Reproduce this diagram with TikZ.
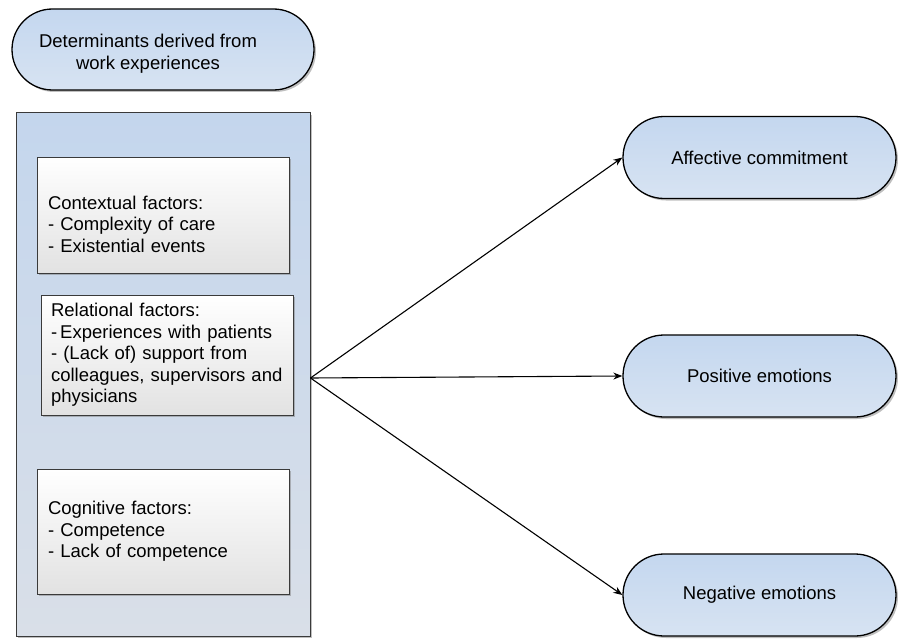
\documentclass[tikz,border=0pt]{standalone}
\usepackage{fontspec}
\setmainfont{Liberation Sans}
\usetikzlibrary{shapes.misc,shadows,arrows.meta}
\definecolor{pilltop}{HTML}{C4D7EF}
\definecolor{pillbot}{HTML}{D7E3F2}
\definecolor{contop}{HTML}{C4D6ED}
\definecolor{conbot}{HTML}{D9DFE8}
\definecolor{boxbot}{HTML}{E2E2E2}
\definecolor{edgegray}{HTML}{3A3A3A}
\begin{document}
\begin{tikzpicture}[x=1pt,y=-1pt,
  font=\fontsize{18.5}{21.5}\selectfont,
  pill/.style={rounded rectangle, draw=black, line width=1.3pt,
    top color=pilltop, bottom color=pillbot,
    minimum width=273pt, minimum height=82pt, inner sep=0pt,
    drop shadow={shadow xshift=2pt, shadow yshift=-2pt, fill=black!50, opacity=0.5}},
  container/.style={rectangle, draw=edgegray, line width=1pt,
    top color=contop, bottom color=conbot,
    minimum width=294pt, minimum height=523pt, inner sep=0pt,
    drop shadow={shadow xshift=2pt, shadow yshift=-2pt, fill=black!50, opacity=0.5}},
  factorbox/.style={rectangle, draw=edgegray, line width=1pt,
    top color=white, bottom color=boxbot,
    minimum width=252pt, align=left, text width=230pt, inner xsep=11pt, inner ysep=0pt,
    drop shadow={shadow xshift=2pt, shadow yshift=-2pt, fill=black!50, opacity=0.5}},
  conn/.style={draw=black, line width=1.1pt, -{Stealth[length=9pt,width=7pt]}}
]
\path[use as bounding box] (0,0) rectangle (898,642);

\node[pill, minimum width=302pt, minimum height=81pt,
  label={[align=center, xshift=-15pt, yshift=-4pt]center:{Determinants derived from\\work experiences}}]
  (det) at (163,49.5) {};

\node[container] (grp) at (163,374.5) {};

\node[factorbox, minimum height=116pt,
  label={[text width=230pt, align=left, yshift=-9pt]center:{Contextual factors:\\- Complexity of care\\- Existential events}}]
  (ctx) at (163,215) {};
\node[factorbox, minimum height=120pt, inner xsep=10pt, text width=232pt] (rel) at (167,355)
  {Relational factors:\\-\,Experiences with patients\\- (Lack of) support from\\colleagues, supervisors and\\physicians};
\node[factorbox, minimum height=125pt] (cog) at (163,531.5)
  {Cognitive factors:\\- Competence\\- Lack of competence};

\node[pill] (aff) at (759.5,157.5) {Affective commitment};
\node[pill] (pos) at (759.5,376) {Positive emotions};
\node[pill] (neg) at (759.5,595) {Negative emotions};

\coordinate (src) at ([yshift=-3.5pt]grp.east);
\draw[conn] (src) -- (aff.west);
\draw[conn] (src) -- (pos.west);
\draw[conn] (src) -- (neg.west);
\end{tikzpicture}
\end{document}
